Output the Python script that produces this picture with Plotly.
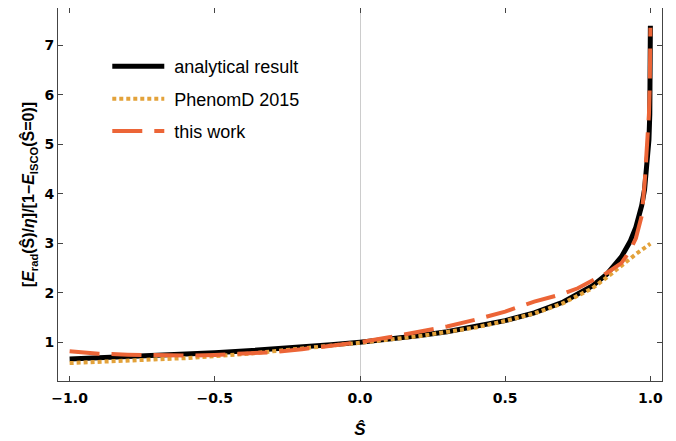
import plotly.graph_objects as go

# ---- data ----
spin_analytical = [-1.0, -0.9, -0.8, -0.7, -0.6, -0.5, -0.4, -0.3, -0.2, -0.1, 0.0,
                   0.1, 0.2, 0.3, 0.4, 0.5, 0.6, 0.7, 0.8, 0.85, 0.9, 0.93, 0.95,
                   0.97, 0.98, 0.99, 0.995, 0.998, 0.999, 0.9995, 0.9999, 1.0]
analytical = [0.660, 0.682, 0.706, 0.731, 0.759, 0.789, 0.823, 0.860, 0.901, 0.948, 1.000,
              1.060, 1.130, 1.213, 1.312, 1.436, 1.595, 1.812, 2.136, 2.375, 2.723, 3.033, 3.325,
              3.758, 4.089, 4.617, 5.087, 5.613, 5.941, 6.216, 6.680, 7.390]

spin_phenomd = [-1.0, -0.8, -0.6, -0.4, -0.2, 0.0, 0.2, 0.4, 0.5, 0.6, 0.7, 0.75,
                0.8, 0.85, 0.9, 0.95, 1.0]
phenomd = [0.58, 0.62, 0.68, 0.76, 0.87, 0.99, 1.12, 1.30, 1.43, 1.58, 1.79, 1.93,
           2.09, 2.31, 2.55, 2.78, 2.99]

spin_this = [-1.0, -0.9, -0.8, -0.7, -0.6, -0.5, -0.4, -0.3, -0.2, -0.1, 0.0, 0.1, 0.2,
             0.3, 0.4, 0.5, 0.6, 0.7, 0.75, 0.8, 0.85, 0.9, 0.93, 0.95, 0.97, 0.98,
             0.99, 0.995, 0.998, 1.0]
this_work = [0.82, 0.77, 0.75, 0.735, 0.73, 0.745, 0.765, 0.80, 0.86, 0.93, 1.00, 1.10, 1.20,
             1.32, 1.46, 1.62, 1.82, 1.98, 2.09, 2.25, 2.40, 2.60, 2.85, 3.10, 3.55, 4.20,
             5.00, 5.60, 6.20, 7.35]

legend_names = ["analytical result", "PhenomD 2015", "this work"]
x_tickvals = [-1.0, -0.5, 0.0, 0.5, 1.0]
x_ticktext = ["\u22121.0", "\u22120.5", "0.0", "0.5", "1.0"]
y_tickvals = [1, 2, 3, 4, 5, 6, 7]
y_ticktext = ["1", "2", "3", "4", "5", "6", "7"]

FONT = "Liberation Sans"
TICKFONT = "DejaVu Sans"
NB = "\u00a0"

fig = go.Figure()
fig.add_trace(go.Scatter(x=spin_analytical, y=analytical, mode="lines",
                         name=NB + legend_names[0], legendgroup="a",
                         line=dict(color="black", width=5)))
fig.add_trace(go.Scatter(x=spin_phenomd, y=phenomd, mode="lines",
                         name=NB + legend_names[1], legendgroup="b",
                         line=dict(color="#E3A23A", width=4, dash="4px,3px")))
fig.add_trace(go.Scatter(x=spin_this, y=this_work, mode="lines",
                         name=NB + legend_names[2], legendgroup="c",
                         line=dict(color="#EC6537", width=4, dash="30px,12px")))

axis_common = dict(ticks="inside", ticklen=5, tickwidth=1, tickcolor="#444",
                   showline=True, linecolor="#444", linewidth=1, mirror="ticks",
                   showgrid=False, automargin=False,
                   tickfont=dict(family=TICKFONT, size=14, color="black", weight="bold"))

fig.update_xaxes(range=[-1.04, 1.04], tickvals=x_tickvals, ticktext=x_ticktext,
                 zeroline=True, zerolinecolor="#cccccc", zerolinewidth=1,
                 ticklabelstandoff=4,
                 title=dict(text="<i>\u015c</i>", standoff=18,
                            font=dict(family=FONT, size=17, color="black", weight="bold")),
                 **axis_common)
fig.update_yaxes(range=[0.218, 7.75], tickvals=y_tickvals, ticktext=y_ticktext,
                 zeroline=False,
                 title=dict(text="[<i>E</i><sub>rad</sub>(\u015c)/<i>\u03b7</i>]/[1\u2212<i>E</i><sub>ISCO</sub>(\u015c=0)]",
                            standoff=5,
                            font=dict(family=FONT, size=16, color="black", weight="bold")),
                 **axis_common)

fig.update_layout(
    width=676, height=441,
    margin=dict(l=50, r=22, t=0, b=68),
    paper_bgcolor="white", plot_bgcolor="white",
    font=dict(family=FONT, color="black"),
    legend=dict(x=0.0816, y=0.8925, xanchor="left", yanchor="top",
                bgcolor="rgba(0,0,0,0)", traceorder="grouped", tracegroupgap=6,
                itemwidth=52, font=dict(family=FONT, size=18, color="black")),
)

fig.write_html("out.html")
